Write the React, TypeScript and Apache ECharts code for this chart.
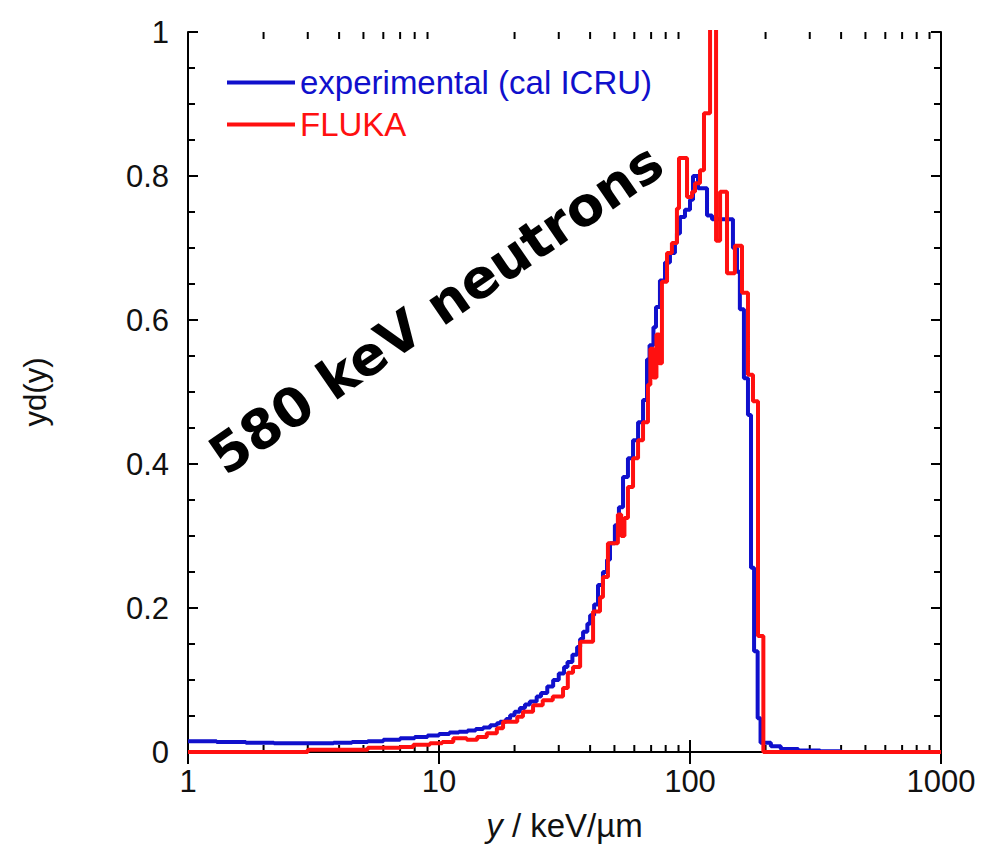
import React, { useEffect, useRef } from "react";
import * as echarts from "echarts";

// ---- data ----
const EXP_X = [
  1.0, 1.3, 1.7, 2.2, 3.0, 3.8, 4.5, 5.2, 6.0, 7.0, 8.0, 9.0, 10.0, 11.0, 12.0, 13.0, 14.0, 15.0, 16.0, 17.0,
  17.5, 18.5, 19.2, 20.0, 21.0, 22.0, 23.0, 24.5, 25.5, 27.0, 28.5, 30.0, 31.5, 32.5, 34.0, 35.5, 36.5, 37.5,
  39.0, 40.0, 41.5, 43.0, 45.0, 46.7, 48.0, 50.2, 52.1, 54.1, 56.6, 59.3, 62.1, 65.0, 67.4, 69.0, 71.5, 73.2,
  75.9, 79.5, 83.2, 87.1, 88.7, 91.2, 95.5, 100.0, 102.8, 107.6, 116.9, 122.4, 148.3, 153.9, 158.0, 164.0,
  170.2, 175.0, 180.0, 186.0, 191.0, 210.0, 230.0, 270.0, 330.0, 400.0, 1000.0,
];
const EXP_Y = [
  0.015, 0.014, 0.013, 0.012, 0.012, 0.013, 0.014, 0.015, 0.017, 0.019, 0.021, 0.023, 0.025, 0.027, 0.028, 0.03, 0.032, 0.034, 0.037, 0.04,
  0.042, 0.046, 0.051, 0.056, 0.061, 0.066, 0.07, 0.077, 0.082, 0.091, 0.1, 0.109, 0.118, 0.125, 0.135, 0.146, 0.157, 0.167,
  0.178, 0.19, 0.205, 0.232, 0.25, 0.267, 0.29, 0.315, 0.34, 0.382, 0.408, 0.433, 0.458, 0.489, 0.545, 0.565, 0.59, 0.618,
  0.655, 0.68, 0.693, 0.707, 0.72, 0.743, 0.753, 0.767, 0.8, 0.783, 0.745, 0.74, 0.7, 0.667, 0.615, 0.519,
  0.468, 0.256, 0.14, 0.047, 0.013, 0.008, 0.004, 0.002, 0.001, 0.0, 0.0,
];

const FLUKA_X = [
  1.0, 3.0, 5.2, 7.0, 7.9, 9.2, 10.3, 11.4, 12.9, 14.2, 15.5, 17.0, 18.0, 20.5, 21.6, 23.7, 25.9, 28.4, 31.2,
  32.6, 34.2, 36.5, 41.1, 43.8, 45.0, 47.1, 51.6, 53.2, 54.8, 56.6, 59.3, 62.1, 65.0, 68.0, 69.5, 71.5, 73.5,
  75.5, 77.3, 81.0, 84.7, 88.7, 90.4, 97.3, 101.9, 104.7, 109.6, 113.7, 120.2, 127.0, 131.8, 140.4, 151.0,
  161.1, 170.2, 178.2, 186.6, 196.0, 1000.0,
];
const FLUKA_Y = [
  0.0, 0.003, 0.006, 0.007, 0.01, 0.012, 0.014, 0.019, 0.017, 0.021, 0.026, 0.033, 0.042, 0.049, 0.056, 0.065, 0.072, 0.077, 0.089,
  0.11, 0.118, 0.153, 0.195, 0.215, 0.243, 0.29, 0.33, 0.3, 0.325, 0.368, 0.408, 0.433, 0.458, 0.51, 0.56, 0.52, 0.58,
  0.54, 0.653, 0.693, 0.707, 0.755, 0.825, 0.771, 0.778, 0.79, 0.808, 0.887, 1.05, 0.71, 0.778, 0.665, 0.703,
  0.638, 0.524, 0.487, 0.161, 0.0, 0.0,
];

const SERIES_NAMES = ["experimental (cal ICRU)", "FLUKA"];
const ANNOTATION = "580 keV neutrons";
const X_TITLE = "{i|y} / keV/µm";
const Y_TITLE = "yd(y)";

const BLUE = "#1010cc";
const RED = "#ff1010";
const FONT = "Liberation Sans";

export default function App() {
  const ref = useRef<HTMLDivElement>(null);

  useEffect(() => {
    if (!ref.current) return;
    const chart = echarts.init(ref.current, undefined, { renderer: "svg" });

    const expData = EXP_X.map((x, i) => [x, EXP_Y[i]]);
    const flukaData = FLUKA_X.map((x, i) => [x, FLUKA_Y[i]]);

    const textGraphic = {
      type: "text",
      x: 436,
      y: 309,
      rotation: 0.604,
      style: {
        text: ANNOTATION,
        font: "bold 54px 'DejaVu Sans'",
        fill: "#000",
        textAlign: "center",
        textVerticalAlign: "middle",
      },
      z: 10,
    };

    const axisLine = { show: true, lineStyle: { color: "#000", width: 2 } };

    chart.setOption({
      animation: false,
      backgroundColor: "#fff",
      grid: { left: 188, right: 44, top: 32, bottom: 95 },
      legend: {
        left: 222,
        top: 61,
        orient: "vertical",
        icon: "rect",
        itemWidth: 68,
        itemHeight: 4,
        itemGap: 9,
        textStyle: { fontSize: 33, fontFamily: FONT },
        data: [
          { name: SERIES_NAMES[0], textStyle: { color: BLUE } },
          { name: SERIES_NAMES[1], textStyle: { color: RED } },
        ],
      },
      xAxis: [
        {
          type: "log",
          logBase: 10,
          min: 1,
          max: 1000,
          position: "bottom",
          axisLine,
          axisTick: { show: true, inside: true, length: 12, lineStyle: { color: "#000", width: 2 } },
          axisLabel: {
            fontSize: 31,
            color: "#111",
            fontFamily: FONT,
            margin: 14,
            formatter: (v: number) => String(Math.round(v)),
          },
          splitLine: { show: false },
          name: X_TITLE,
          nameLocation: "middle",
          nameGap: 57,
          nameTextStyle: {
            fontSize: 33,
            color: "#111",
            fontFamily: FONT,
            rich: { i: { fontStyle: "italic", fontSize: 33, color: "#111", fontFamily: FONT } },
          },
        },
        {
          type: "log",
          logBase: 10,
          min: 1,
          max: 1000,
          position: "top",
          axisLine,
          axisTick: { show: true, inside: true, length: 12, lineStyle: { color: "#000", width: 2 } },
          axisLabel: { show: false },
          splitLine: { show: false },
        },
      ],
      yAxis: [
        {
          type: "value",
          min: 0,
          max: 1,
          interval: 0.2,
          position: "left",
          axisLine,
          axisTick: { show: true, inside: true, length: 10, lineStyle: { color: "#000", width: 2 } },
          minorTick: { show: true, splitNumber: 4, length: 7, lineStyle: { color: "#000", width: 2 } },
          axisLabel: { fontSize: 31, color: "#111", fontFamily: FONT, margin: 19 },
          splitLine: { show: false },
          name: Y_TITLE,
          nameLocation: "middle",
          nameGap: 137,
          nameTextStyle: { fontSize: 31, color: "#111", fontFamily: FONT },
        },
        {
          type: "value",
          min: 0,
          max: 1,
          interval: 0.2,
          position: "right",
          axisLine,
          axisTick: { show: true, inside: true, length: 10, lineStyle: { color: "#000", width: 2 } },
          minorTick: { show: true, splitNumber: 4, length: 7, lineStyle: { color: "#000", width: 2 } },
          axisLabel: { show: false },
          splitLine: { show: false },
        },
      ],
      series: [
        {
          name: SERIES_NAMES[0],
          type: "line",
          step: "end",
          showSymbol: false,
          symbol: "none",
          data: expData,
          lineStyle: { color: BLUE, width: 4 },
          itemStyle: { color: BLUE },
          clip: true,
          z: 3,
        },
        {
          name: SERIES_NAMES[1],
          type: "line",
          step: "end",
          showSymbol: false,
          symbol: "none",
          data: flukaData,
          lineStyle: { color: RED, width: 4 },
          itemStyle: { color: RED },
          clip: true,
          z: 4,
        },
      ],
      graphic: [textGraphic],
    });

    // minor log ticks (2..9 within each decade), placed through the axis scale
    const minor: number[] = [];
    for (const dec of [1, 10, 100]) for (let k = 2; k <= 9; k++) minor.push(k * dec);
    const yBottom = chart.convertToPixel({ yAxisIndex: 0 }, 0) as number;
    const yTop = chart.convertToPixel({ yAxisIndex: 0 }, 1) as number;
    const tickGraphics: any[] = [];
    minor.forEach((v) => {
      const px = chart.convertToPixel({ xAxisIndex: 0 }, v) as number;
      tickGraphics.push({
        type: "line",
        shape: { x1: px, y1: yBottom, x2: px, y2: yBottom - 7 },
        style: { stroke: "#000", lineWidth: 2 },
        z: 1,
      });
      tickGraphics.push({
        type: "line",
        shape: { x1: px, y1: yTop, x2: px, y2: yTop + 7 },
        style: { stroke: "#000", lineWidth: 2 },
        z: 1,
      });
    });
    chart.setOption({ graphic: [textGraphic, ...tickGraphics] });

    return () => chart.dispose();
  }, []);

  return (
    <div
      ref={ref}
      style={{ position: "absolute", left: 0, top: 0, width: 985, height: 847 }}
    />
  );
}
